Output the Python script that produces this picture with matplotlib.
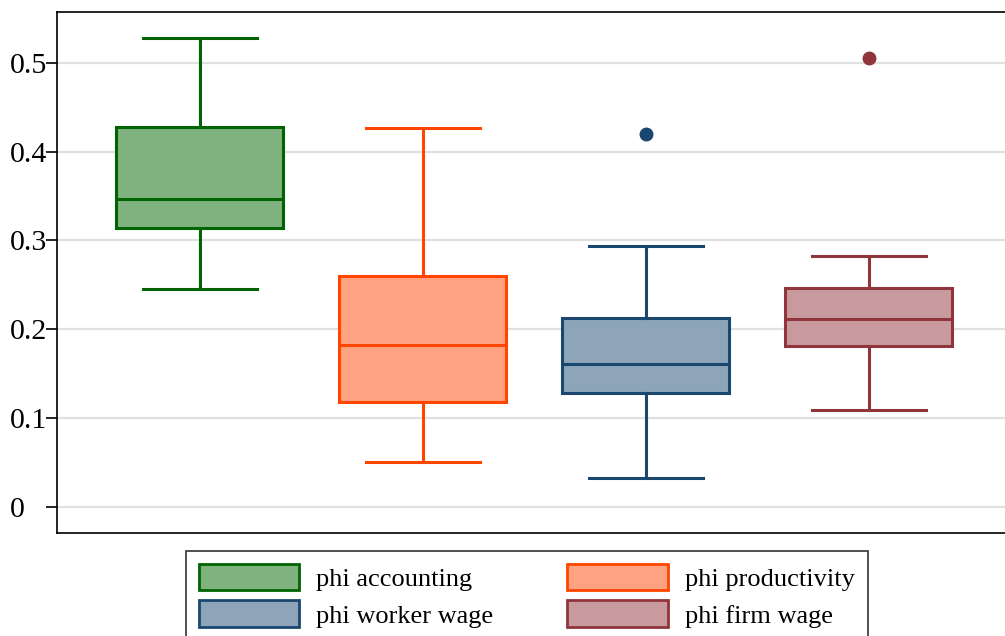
import matplotlib
matplotlib.use("Agg")
import matplotlib.pyplot as plt
from matplotlib.patches import Patch

plt.rcParams['font.family'] = ['Liberation Serif', 'DejaVu Serif']

# box plot summaries
labels = ['phi accounting', 'phi productivity', 'phi worker wage', 'phi firm wage']
whislo = [0.245, 0.051, 0.033, 0.109]
q1 = [0.314, 0.118, 0.128, 0.181]
med = [0.347, 0.182, 0.161, 0.212]
q3 = [0.428, 0.260, 0.213, 0.247]
whishi = [0.528, 0.427, 0.294, 0.282]
outliers = [[], [], [0.420], [0.505]]

edge_colors = ['#006400', '#ff4500', '#1a476f', '#90353b']
fill_colors = ['#80b280', '#ffa282', '#8ea5b9', '#c89a9d']

stats = []
for i in range(len(labels)):
    stats.append(dict(label=labels[i], whislo=whislo[i], q1=q1[i], med=med[i],
                      q3=q3[i], whishi=whishi[i], fliers=outliers[i]))

fig = plt.figure(figsize=(10.05, 6.36), dpi=100)
ax = fig.add_axes([57 / 1005, 1 - 533 / 636, 950 / 1005, 521 / 636])

positions = [1, 2, 3, 4]
for i, s in enumerate(stats):
    ec = edge_colors[i]
    ax.bxp([s], positions=[positions[i]], widths=0.75, patch_artist=True,
           showfliers=True,
           boxprops=dict(facecolor=fill_colors[i], edgecolor=ec, linewidth=2.2),
           medianprops=dict(color=ec, linewidth=2.2),
           whiskerprops=dict(color=ec, linewidth=2.2),
           capprops=dict(color=ec, linewidth=2.2),
           capwidths=0.51,
           flierprops=dict(marker='o', markerfacecolor=ec, markeredgecolor=ec,
                           markersize=9))

ax.set_xlim(0.36, 4.62)
ax.set_ylim(-0.029, 0.557)
ax.set_xticks([])
ax.set_yticks([0, 0.1, 0.2, 0.3, 0.4, 0.5])
ax.set_yticklabels(['0', '0.1', '0.2', '0.3', '0.4', '0.5'])
ax.tick_params(axis='y', labelsize=21.5, length=8, width=1.2, pad=26)
for lab in ax.get_yticklabels():
    lab.set_horizontalalignment('left')
ax.yaxis.grid(True, color='#e0e0e0', linewidth=1.6)
ax.set_axisbelow(True)
for sp in ax.spines.values():
    sp.set_linewidth(1.2)

# legend is filled row by row in the reference
order = [0, 2, 1, 3]
handles = [Patch(facecolor=fill_colors[i], edgecolor=edge_colors[i], linewidth=2,
                 label=labels[i]) for i in order]
leg = fig.legend(handles=handles, ncol=2, loc='upper left',
                 bbox_to_anchor=(186 / 1005, 1 - 551 / 636), borderaxespad=0,
                 fontsize=19, frameon=True, fancybox=False,
                 handlelength=3.8, handleheight=1.15, columnspacing=2.8,
                 labelspacing=0.35, borderpad=0.5, handletextpad=0.64)
leg.get_frame().set_edgecolor('black')
leg.get_frame().set_linewidth(1.2)

fig.savefig('out.png', dpi=100)
